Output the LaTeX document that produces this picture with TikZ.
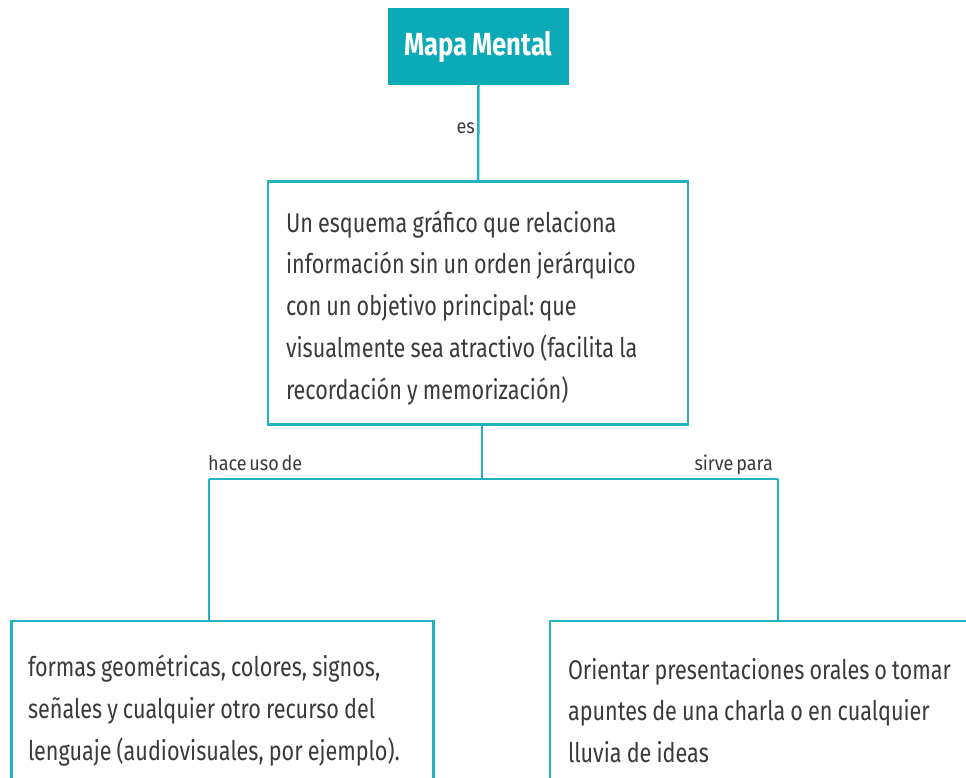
\documentclass[tikz,border=0pt]{standalone}
\usepackage{fontspec}
\setmainfont[FakeStretch=0.8,WordSpace=0.6]{Fira Sans}
\newfontfamily\lblfont[FakeStretch=0.9,WordSpace=0.6]{Fira Sans}
\newfontfamily\titlefont[FakeStretch=0.8,WordSpace=0.8]{Fira Sans}
\definecolor{tealfill}{HTML}{0BAAB6}
\definecolor{tealline}{HTML}{22B3BE}
\definecolor{txt}{HTML}{3A3A3A}
\tikzset{
  box/.style={draw=tealline, line width=2.5pt, inner sep=0pt, text=txt,
    font=\fontsize{27}{41.7}\selectfont, align=left,
    execute at begin node={\frenchspacing\spaceskip=0.19em plus 0.05em\xspaceskip=0.19em plus 0.05em\relax}},
  conn/.style={draw=tealline, line width=2.5pt},
  lbl/.style={inner sep=0pt, text=txt, font=\lblfont\fontsize{20}{24}\selectfont}
}
\begin{document}
\begin{tikzpicture}[x=1pt,y=-1pt]
\clip (0,0) rectangle (966,778);
\fill[white] (0,0) rectangle (966,778);
\node[fill=tealfill, minimum width=181pt, minimum height=77pt, inner sep=0pt,
  text=white, font=\titlefont\bfseries\fontsize{32}{40}\selectfont] (title) at (478.5,46.5) {Mapa Mental};
\node[box, minimum width=420pt, minimum height=243pt, text width=384pt] (main) at (478,303)
  {\rule{0pt}{31pt}Un esquema gráfico que relaciona\\información sin un orden jerárquico\\con un objetivo principal: que\\visualmente sea atractivo (facilita la\\recordación y memorización)};
\node[box, minimum width=422pt, minimum height=179pt, text width=389pt] (left) at (222.5,710.5)
  {formas geométricas, colores, signos,\\señales y cualquier otro recurso del\\lenguaje (audiovisuales, por ejemplo).};
\node[box, minimum width=440pt, minimum height=179pt, text width=404pt] (right) at (770,710.5)
  {Orientar presentaciones orales o tomar\\apuntes de una charla o en cualquier\\lluvia de ideas};
\coordinate (j) at (482,479);
\coordinate (jl) at (209,479);
\coordinate (jr) at (778,479);
\draw[conn] (title.south) -- (main.north);
\draw[conn] (main.south -| j) -- (j);
\draw[conn] (jl) -- (jr);
\draw[conn] (jl) -- (jl |- left.north);
\draw[conn] (jr) -- (jr |- right.north);
\node[lbl, anchor=base east] (les) at (475,134) {es};
\node[lbl, anchor=base west] (lhace) at (208,470) {hace uso de};
\node[lbl, anchor=base east] (lsirve) at (773,470) {sirve para};
\end{tikzpicture}
\end{document}
